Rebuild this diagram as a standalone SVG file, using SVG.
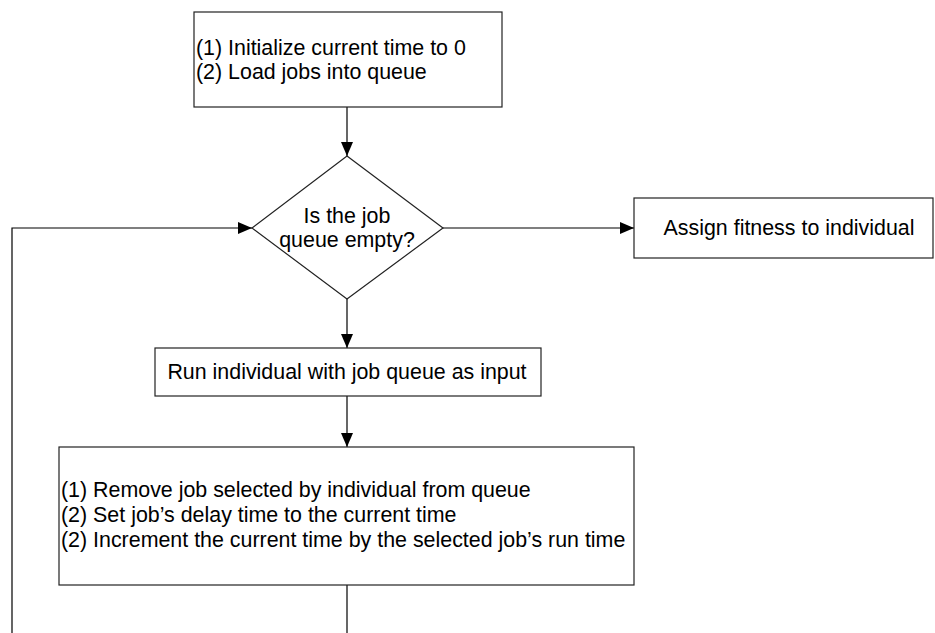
<svg xmlns="http://www.w3.org/2000/svg" width="935" height="633" viewBox="0 0 935 633">
<defs>
<marker id="arr" markerWidth="14" markerHeight="12" refX="14" refY="6" orient="auto" markerUnits="userSpaceOnUse">
<path d="M0,0 L14,6 L0,12 Z" fill="#000"/>
</marker>
<style>
.box{fill:#fff;stroke:#222;stroke-width:1.2}
.t{font-family:"Liberation Sans",Arial,sans-serif;font-size:21.4px;fill:#000}
.c{text-anchor:middle}
.ln{fill:none;stroke:#000;stroke-width:1.2}
</style>
</defs>
<rect width="935" height="633" fill="#fff"/>
<g id="connectors">
<line class="ln" x1="347" y1="107" x2="347" y2="156" marker-end="url(#arr)"/>
<line class="ln" x1="443" y1="228" x2="634" y2="228" marker-end="url(#arr)"/>
<line class="ln" x1="347" y1="299" x2="347" y2="348" marker-end="url(#arr)"/>
<line class="ln" x1="347" y1="396" x2="347" y2="447" marker-end="url(#arr)"/>
<line class="ln" x1="347" y1="585" x2="347" y2="633"/>
<polyline class="ln" points="12,633 12,228 252,228" marker-end="url(#arr)"/>
</g>
<g id="init">
<rect class="box" x="194" y="12" width="308" height="95"/>
<text class="t" x="196" y="55">(1) Initialize current time to 0</text>
<text class="t" x="196" y="79">(2) Load jobs into queue</text>
</g>
<g id="decision">
<polygon class="box" points="347,156 443,228 347,299 252,228"/>
<text class="t c" x="347" y="223">Is the job</text>
<text class="t c" x="347" y="247">queue empty?</text>
</g>
<g id="assign">
<rect class="box" x="634" y="198" width="299" height="60"/>
<text class="t c" x="789" y="235">Assign fitness to individual</text>
</g>
<g id="run">
<rect class="box" x="155" y="348" width="386" height="48"/>
<text class="t c" x="347" y="379">Run individual with job queue as input</text>
</g>
<g id="update">
<rect class="box" x="59" y="447" width="575" height="138"/>
<text class="t" x="61" y="497">(1) Remove job selected by individual from queue</text>
<text class="t" x="61" y="522">(2) Set job’s delay time to the current time</text>
<text class="t" x="61" y="547">(2) Increment the current time by the selected job’s run time</text>
</g>
</svg>
